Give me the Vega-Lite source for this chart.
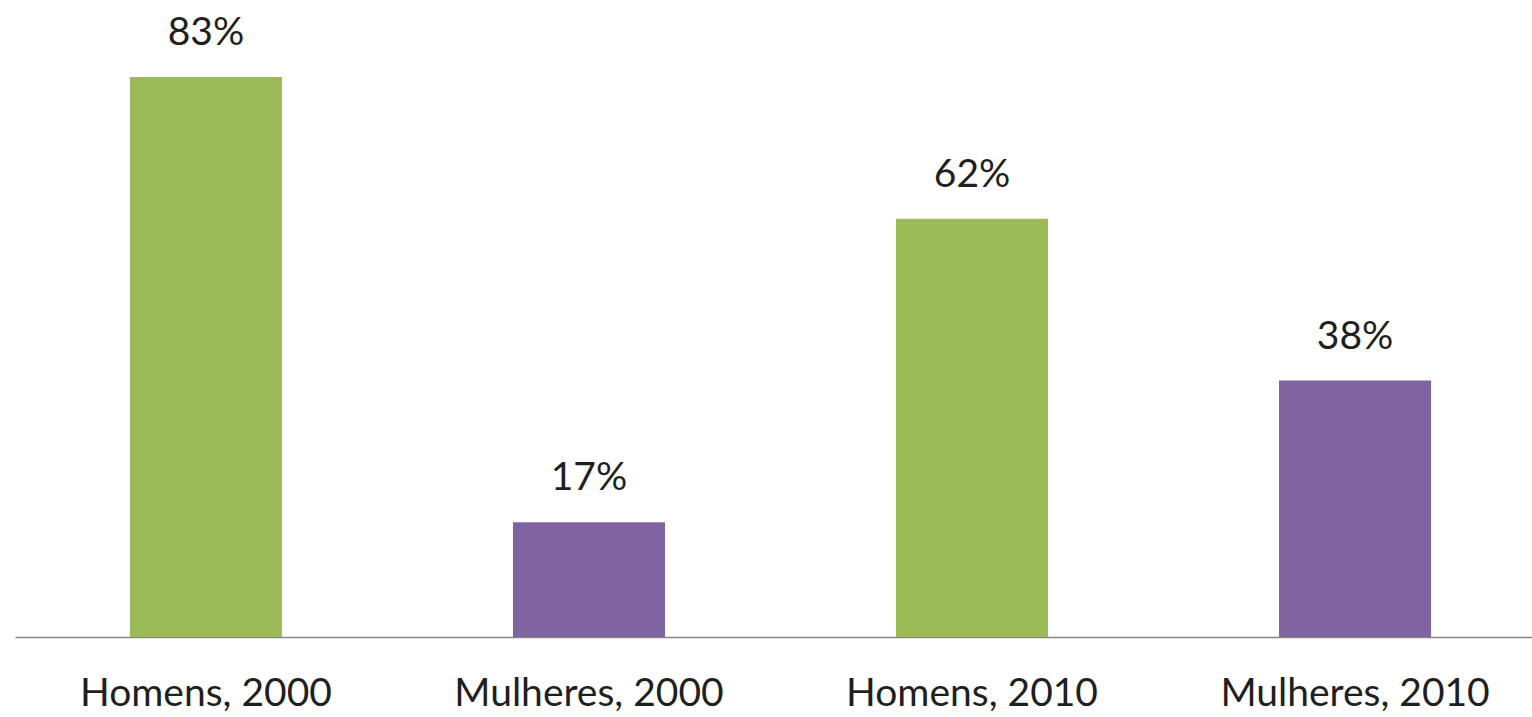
{
  "$schema": "https://vega.github.io/schema/vega-lite/v6.json",
  "autosize": "none",
  "width": 1531,
  "height": 637,
  "padding": {"left": 15, "top": 0, "right": 0, "bottom": 80},
  "background": "white",
  "config": {"view": {"stroke": null}, "font": "Lato"},
  "data": {"values": [
    {"categoria": "Homens, 2000", "grupo": "Homens", "valor": 0.83},
    {"categoria": "Mulheres, 2000", "grupo": "Mulheres", "valor": 0.17},
    {"categoria": "Homens, 2010", "grupo": "Homens", "valor": 0.62},
    {"categoria": "Mulheres, 2010", "grupo": "Mulheres", "valor": 0.38}
  ]},
  "encoding": {
    "x": {"field": "categoria", "type": "nominal", "sort": null,
      "scale": {"paddingInner": 0.603, "paddingOuter": 0.3},
      "axis": {"title": null, "labelAngle": 0, "ticks": false, "domain": true, "domainColor": "#868686", "domainWidth": 1.5, "domainOpacity": 1,
        "labelFontSize": 39, "labelColor": "#1f1f1f", "labelPadding": 68, "labelFont": "Lato", "labelBaseline": "alphabetic", "labelLimit": 0}},
    "y": {"field": "valor", "type": "quantitative", "scale": {"domain": [0, 0.944], "nice": false}, "axis": null}
  },
  "layer": [
    {"mark": {"type": "bar"},
     "encoding": {"color": {"field": "grupo", "type": "nominal", "scale": {"domain": ["Homens", "Mulheres"], "range": ["#9BBB59", "#8064A2"]}, "legend": null}}},
    {"mark": {"type": "text", "baseline": "alphabetic", "dy": -32, "fontSize": 39, "color": "#1f1f1f", "font": "Lato"},
     "encoding": {"text": {"field": "valor", "type": "quantitative", "format": ".0%"}}}
  ]
}
